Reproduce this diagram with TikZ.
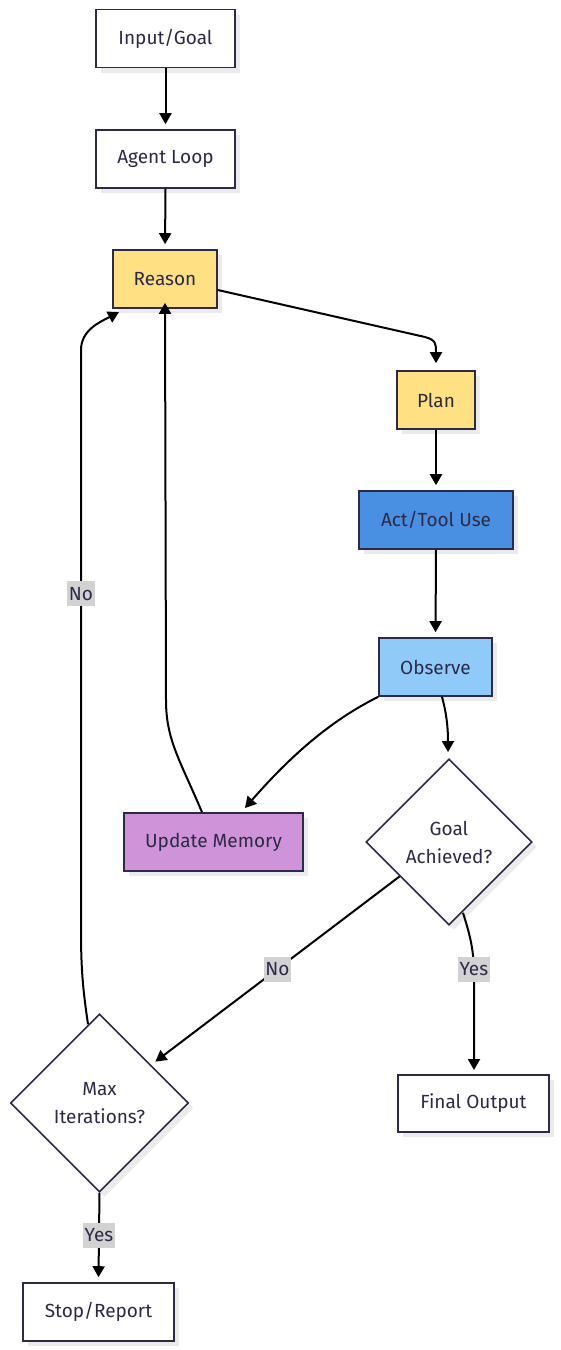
\documentclass[tikz,border=0pt]{standalone}
\usepackage{fontspec}
\setmainfont{Fira Sans}
\usetikzlibrary{arrows.meta,shapes.geometric,shadows}
\definecolor{ink}{RGB}{44,42,70}
\definecolor{yel}{HTML}{FFE082}
\definecolor{blu}{HTML}{4A90E2}
\definecolor{lblu}{HTML}{90CAF9}
\definecolor{pur}{HTML}{CE93D8}
\definecolor{lblbg}{RGB}{210,210,210}
\tikzset{
  shad/.style={drop shadow={shadow xshift=5pt,shadow yshift=-5pt,fill=black!8,opacity=1}},
  box/.style={draw=ink,line width=1.6pt,fill=white,text=ink,font=\fontsize{19}{22}\selectfont,
    minimum height=58pt,inner sep=0pt,shad},
  dia/.style={diamond,draw=ink,line width=1.6pt,fill=white,text=ink,font=\fontsize{19}{28}\selectfont,
    inner sep=0pt,align=center,shad},
  conn/.style={draw=black,line width=2pt,-{Triangle[width=12pt,length=11pt]}},
  lbl/.style={fill=lblbg,text=ink,font=\fontsize{19}{22}\selectfont,inner xsep=1.5pt,inner ysep=0pt,minimum height=25pt}
}
\begin{document}
\begin{tikzpicture}[x=1pt,y=-1pt]
\useasboundingbox (0,0) rectangle (560,1350);
% nodes
\node[box,minimum width=139pt] (in) at (165.5,38.5) {Input/Goal};
\node[box,minimum width=139pt] (loop) at (165.5,159) {Agent Loop};
\node[box,minimum width=104pt,fill=yel] (reason) at (165,279) {Reason};
\node[box,minimum width=78pt,fill=yel] (plan) at (436,400) {Plan};
\node[box,minimum width=154pt,fill=blu] (act) at (436,520) {Act/Tool Use};
\node[box,minimum width=113pt,fill=lblu] (obs) at (435.5,667) {Observe};
\node[box,minimum width=179pt,fill=pur] (mem) at (213.5,842) {Update Memory};
\node[dia,minimum size=166pt] (goal) at (449,842) {Goal\\Achieved?};
\node[box,minimum width=151pt,minimum height=57pt] (final) at (473.5,1103.5) {Final Output};
\node[dia,minimum size=178pt] (max) at (99.5,1103) {Max\\Iterations?};
\node[box,minimum width=151pt] (stop) at (98.5,1312) {Stop/Report};
% helper coordinates
\coordinate (rp1) at (425,337);
\coordinate (mt) at (245,808);
\coordinate (gt) at (448,752);
\coordinate (ft) at (474,1070);
\coordinate (rt) at (119,312);
% connectors
\draw[conn,shorten >=5pt] (in.south) -- (loop.north);
\draw[conn,shorten >=5pt] (loop.south) -- (reason.north);
\draw[conn] ([yshift=-11pt]reason.east) -- (rp1) .. controls (436,340) and (436,344) .. (436,352) -- ([yshift=7pt]plan.north);
\draw[conn,shorten >=5pt] (plan.south) -- (act.north);
\draw[conn,shorten >=5pt] (act.south) -- (obs.north);
\draw[conn] (obs.south west) .. controls (340,716) and (300,745) .. (mt);
\draw[conn] ([xshift=6.5pt]obs.south) .. controls (447,715) and (448,730) .. (gt);
\draw[conn] ([xshift=-11.5pt]mem.north) .. controls (180,760) and (166,740) .. (166,700) -- ([yshift=6pt]reason.south);
\draw[conn] ([xshift=-7.5pt,yshift=7.5pt]goal.south west) -- node[lbl,pos=0.5]{No} ([xshift=11pt,yshift=-3.5pt]max.north east);
\draw[conn] ([xshift=14pt,yshift=13pt]goal.south) .. controls (470,935) and (474,950) .. node[lbl,pos=0.92]{Yes} (474,975) -- (ft);
\draw[conn] ([xshift=-11.5pt,yshift=-11pt]max.north) .. controls (83,990) and (81,970) .. (81,930) -- node[lbl,pos=0.58]{No} (81,350) .. controls (81,330) and (100,322) .. (rt);
\draw[conn] (max.south) -- node[lbl,pos=0.5]{Yes} ([yshift=5pt]stop.north);
\end{tikzpicture}
\end{document}
